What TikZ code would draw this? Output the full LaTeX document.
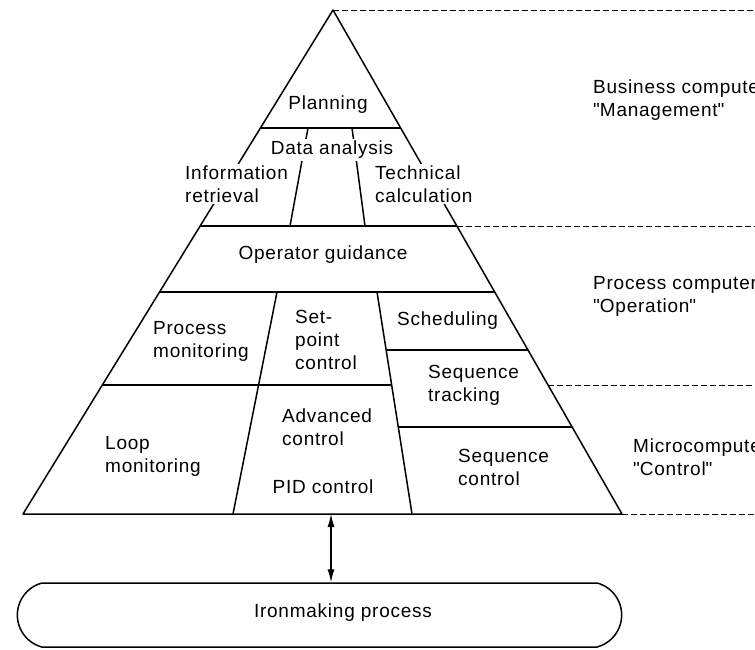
\documentclass[tikz,border=0pt]{standalone}
\usepackage{fontspec}
\setmainfont{Liberation Sans}[LetterSpace=4]
\usetikzlibrary{arrows.meta, shapes.misc}

\begin{document}
\begin{tikzpicture}[x=1pt, y=-1pt,
    every node/.style={font=\fontsize{19}{23}\selectfont},
    lbl/.style={fill=white, inner sep=2pt, align=left},
    side/.style={line width=1.5pt, line join=round},
    tier/.style={line width=0.9pt, dash pattern=on 6pt off 3pt},
    biarr/.style={{Latex[length=13pt,width=7pt]}-{Latex[length=13pt,width=7pt]}, line width=1.1pt},
    plant/.style={rounded rectangle, rounded rectangle arc length=150, draw,
                  line width=1.5pt, minimum width=611pt, minimum height=64pt}
  ]
    \useasboundingbox (0,0) rectangle (755,649);

    \coordinate (apex) at (333,10);
    \coordinate (bl) at (23,514);
    \coordinate (br) at (622,514);
    \coordinate (basemid) at (331,514);

    \draw[side] (apex) -- (bl) -- (br) -- cycle;
    \draw[side] (260.6,128) -- (400.5,128);
    \draw[side] (200.4,226) -- (456.6,226);
    \draw[side] (159.9,292) -- (494.4,292);
    \draw[side] (102.8,385) -- (391.7,385);
    \draw[side] (386.1,350) -- (527.6,350);
    \draw[side] (398.3,427) -- (571.6,427);
    \draw[side] (308,128) -- (290,226);
    \draw[side] (352,128) -- (365,226);
    \draw[side] (277,292) -- (233,514);
    \draw[side] (377,292) -- (412,514);

    \draw[tier] (apex) -- (755,10);
    \draw[tier] (456.6,226) -- (755,226);
    \draw[tier] (547.6,385) -- (755,385);
    \draw[tier] (br) -- (755,514);

    \node[lbl] (plan) at (328,105) {Planning};
    \node[lbl] (data) at (332,150) {Data analysis};
    \node[lbl, anchor=west] (info) at (183,184) {Information\\retrieval};
    \node[lbl, anchor=west] (tech) at (373,184) {Technical\\calculation};
    \node[lbl] (guide) at (323,255) {Operator guidance};
    \node[lbl, anchor=west] (pmon) at (151,341) {Process\\monitoring};
    \node[lbl, anchor=west] (setp) at (293,340) {Set-\\point\\control};
    \node[lbl, anchor=west] (sched) at (395,321) {Scheduling};
    \node[lbl, anchor=west] (strack) at (426,385) {Sequence\\tracking};
    \node[lbl, anchor=west] (lmon) at (103,456) {Loop\\monitoring};
    \node[lbl, anchor=west] (adv) at (280,427) {Advanced\\control};
    \node[lbl] (pid) at (323,487) {PID control};
    \node[lbl, anchor=west] (sctrl) at (456,467) {Sequence\\control};

    \node[lbl, anchor=west] (mgmt) at (591,100) {Business computer\\\textquotedbl Management\textquotedbl};
    \node[lbl, anchor=west] (oper) at (591,296) {Process computer\\\textquotedbl Operation\textquotedbl};
    \node[lbl, anchor=west] (ctrl) at (631,457) {Microcomputer\\\textquotedbl Control\textquotedbl};

    \node[plant] (ironbox) at (319.5,615) {};
    \node (iron) at (343,613) {Ironmaking process};

    \draw[biarr] (basemid) -- (basemid |- ironbox.north);
  \end{tikzpicture}
\end{document}
